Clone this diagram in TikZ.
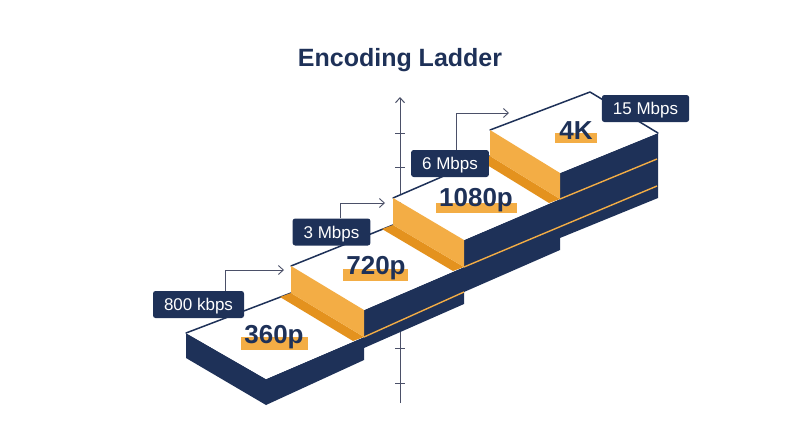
\documentclass[tikz,border=0pt]{standalone}
\usepackage{fontspec}
\setmainfont{Liberation Sans}
\usetikzlibrary{arrows.meta,calc}
\definecolor{navy}{HTML}{1E3158}
\definecolor{amber}{HTML}{F3AD45}
\definecolor{amberdark}{HTML}{E4921E}
\definecolor{axisgray}{HTML}{4B5068}
\tikzset{
  ratebox/.style={fill=navy,text=white,rounded corners=2.5pt,minimum height=27pt,inner xsep=11pt,
    text height=12.2pt,text depth=0pt,font=\fontsize{17}{20}\selectfont},
  reslabel/.style={text=navy,anchor=base,inner sep=0pt,font=\bfseries\fontsize{26}{30}\selectfont},
  resbar/.style={fill=amber},
  callout/.style={draw=axisgray,line width=0.9pt,-{Straight Barb[length=5pt,width=9pt]}},
  riser/.style={fill=amber},
  shadow/.style={fill=amberdark},
  seam/.style={draw=amber,line width=1.4pt},
  rim/.style={draw=navy,line width=1.5pt,line cap=round,line join=round},
}
\begin{document}
\begin{tikzpicture}[x=1pt,y=-1pt]
\useasboundingbox (0,0) rectangle (800,447);
% corners of the four treads
\coordinate (L0) at (186,333); \coordinate (F0) at (266,379); \coordinate (R0) at (364,337); \coordinate (B0) at (291,293);
\coordinate (L1) at (291,266); \coordinate (F1) at (364,310); \coordinate (R1) at (464,267); \coordinate (B1) at (393,225);
\coordinate (L2) at (393,198); \coordinate (F2) at (464,240); \coordinate (R2) at (560,199); \coordinate (B2) at (490,156);
\coordinate (L3) at (490,130); \coordinate (F3) at (560,173); \coordinate (R3) at (658,133); \coordinate (B3) at (590,92);

% axis behind the ladder
\draw[axisgray,line width=1pt,-{Straight Barb[length=5pt,width=9pt]}] (400,403) -- (400,97);
\foreach \ty in {133,167,348,383}
  \draw[axisgray,line width=1pt] (395,\ty) -- (405,\ty);

% navy sides
\fill[navy] (F0) -- (R0) -- (F1) -- (R1) -- (F2) -- (R2) -- (F3) -- (R3) -- (658,198) -- (560,238)
  -- (560,250) -- (464,292) -- (464,304) -- (364,348) -- (364,360) -- (266,405) -- cycle;
\fill[navy] (L0) -- (F0) -- (266,405) -- (186,358) -- cycle;

% treads
\foreach \k in {0,...,3}
  \fill[white] (L\k) -- (F\k) -- (R\k) -- (B\k) -- cycle;
\foreach \k in {0,...,2}
  \draw[rim] (L\k) -- (B\k);
\draw[rim] (L3) -- (B3) -- (R3);

% risers
\foreach \k/\j in {0/1,1/2,2/3} {
  \fill[shadow] (B\k) -- (R\k) -- ($(R\k)+(-11,4)$) -- ($(B\k)+(-11,4)$) -- cycle;
  \fill[riser] (L\j) -- (F\j) -- (R\k) -- (B\k) -- cycle;
}

% seams on the sides
\draw[seam] (R0) -- (464,292);
\draw[seam] (R1) -- (657,186);
\draw[seam] (R2) -- (657,159);

% resolutions
\fill[resbar] (241,337) rectangle (308,350);
\node[reslabel] (res360) at (274,343) {360p};
\fill[resbar] (343,269) rectangle (408,281);
\node[reslabel] (res720) at (376,274) {720p};
\fill[resbar] (436,203) rectangle (517,213);
\node[reslabel] (res1080) at (476,206) {1080p};
\fill[resbar] (555,133) rectangle (597,143);
\node[reslabel] (res4k) at (576,139) {4K};

% bitrates
\coordinate (tip1) at (284,270);
\coordinate (tip2) at (385,203);
\coordinate (tip3) at (509,113);
\node[ratebox] (rate800) at (198.5,304.5) {800 kbps};
\node[ratebox] (rate3) at (331.5,232) {3 Mbps};
\node[ratebox] (rate6) at (450,163.5) {6 Mbps};
\node[ratebox] (rate15) at (645.5,108.5) {15 Mbps};
\draw[callout] ([xshift=26.5pt]rate800.north) |- (tip1);
\draw[callout] ([xshift=8.5pt]rate3.north) |- (tip2);
\draw[callout] ([xshift=6pt]rate6.north) |- (tip3);

% title
\node[text=navy,anchor=base,font=\bfseries\fontsize{25}{30}\selectfont] (title) at (400,66) {Encoding Ladder};
\end{tikzpicture}
\end{document}
